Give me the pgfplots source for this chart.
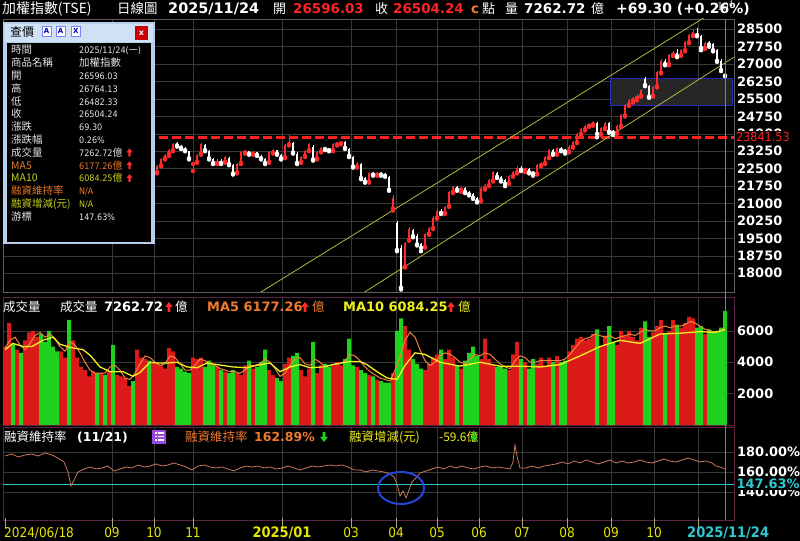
\documentclass[border=0pt]{standalone}
\usepackage{pgfplots}
\pgfplotsset{compat=1.18}
\usepackage{pgfplotstable}
\usepackage{fontspec}
\setmainfont{DejaVu Sans}
\newfontfamily\condf{DejaVu Sans Condensed}
\newfontfamily\cjk{Noto Sans CJK TC}
\newcommand{\fz}[1]{\fontsize{#1}{#1}\selectfont}

\definecolor{gridc}{HTML}{383838}
\definecolor{framec}{HTML}{5E5E5E}
\definecolor{maroonc}{HTML}{5C2442}
\definecolor{upc}{HTML}{FF2A2A}
\definecolor{volred}{HTML}{DD1A1A}
\definecolor{volgreen}{HTML}{1ED21E}
\definecolor{ma5c}{HTML}{F0843C}
\definecolor{ma10c}{HTML}{F4F01E}
\definecolor{chanc}{HTML}{B4B43C}
\definecolor{dashred}{HTML}{FF2020}
\definecolor{boxblue}{HTML}{2A2AB4}
\definecolor{boxfill}{HTML}{262626}
\definecolor{margc}{HTML}{C8785A}
\definecolor{cyanc}{HTML}{2FC8D0}
\definecolor{cursorc}{HTML}{3C9C9C}
\definecolor{ellc}{HTML}{2444D8}
\definecolor{tickc}{HTML}{A8A878}
\definecolor{xlab}{HTML}{E6E600}
\definecolor{orangeT}{HTML}{F07A30}
\definecolor{yellowT}{HTML}{F0F020}
\definecolor{titleRed}{HTML}{FF2424}
\definecolor{boxframe}{HTML}{B6D0EA}
\definecolor{boxhead}{HTML}{CFE1F4}
\definecolor{infoT}{HTML}{E4E4E4}
\definecolor{infoOr}{HTML}{E87828}
\definecolor{infoYe}{HTML}{C8D01C}
\definecolor{purp}{HTML}{9A48E0}

\newcommand{\uparr}[4]{\fill[#3] ({#1-0.13*#4},#2) rectangle ({#1+0.13*#4},{#2+0.55*#4}) ({#1-0.38*#4},{#2+0.5*#4}) -- (#1,{#2+#4}) -- ({#1+0.38*#4},{#2+0.5*#4}) -- cycle;}
\newcommand{\dnarr}[4]{\fill[#3] ({#1-0.13*#4},{#2+#4}) rectangle ({#1+0.13*#4},{#2+0.45*#4}) ({#1-0.38*#4},{#2+0.5*#4}) -- (#1,#2) -- ({#1+0.38*#4},{#2+0.5*#4}) -- cycle;}

\pgfplotstableread{
x o h l c v
5 23000 23250 22950 23150 5000
9 23200 23480 23150 23400 6500
13 23380 23420 23050 23100 5200
17 23120 23300 23050 23230 4800
21 23200 23260 22980 23030 4600
25 23050 23280 23000 23220 5400
29 23300 23850 23280 23800 5900
33 23820 23990 23760 23900 6000
37 23950 24400 23900 24330 5600
41 24350 24420 23950 24000 5800
45 24050 24100 23800 23880 5300
49 23850 23900 23420 23480 6000
53 23400 23450 22850 22900 5000
57 22850 22900 22150 22200 4700
61 22100 22350 22000 22250 4700
65 22350 22650 22300 22600 4300
69 21300 21400 19660 19830 6700
73 20100 20600 20000 20500 5400
77 20700 21100 20650 21000 4300
81 21100 21650 21050 21600 3700
85 21700 21900 21600 21800 3500
89 21900 22150 21800 22100 3100
93 22200 22450 22100 22400 3400
97 22450 22500 22150 22200 3300
101 22300 22650 22250 22600 3300
105 22550 22600 22050 22100 3200
109 22200 22450 22150 22400 3400
113 21800 21850 21050 21100 5100
117 21150 21450 21100 21400 3200
121 21450 21600 21350 21500 3100
125 21550 21850 21500 21800 3000
129 21850 21950 21750 21900 2500
133 21950 22000 21800 21880 2800
137 22000 22450 21950 22400 4800
141 22450 22600 22350 22500 4300
145 22600 22850 22550 22800 4200
149 22600 22650 22050 22100 4100
153 22150 22350 22100 22300 4000
157 22350 22650 22300 22600 3900
161 22650 22950 22600 22900 3800
165 22950 23150 22900 23100 3600
169 23150 23350 23050 23300 4900
173 23300 23600 23250 23550 4700
177 23600 23650 23450 23500 3700
181 23480 23520 23350 23400 3600
185 23380 23420 23250 23300 3400
189 23250 23280 22900 22950 3300
193 22700 22800 22400 22750 4300
197 22800 23150 22750 23100 4200
201 23150 23600 23100 23550 4300
205 23500 23550 23250 23300 3700
209 23250 23300 22900 22950 4100
213 22900 22950 22700 22750 3800
217 22750 22900 22700 22850 3700
221 22850 22900 22700 22750 3500
225 22800 23050 22750 23000 3400
229 22950 23000 22650 22700 3300
233 22650 22700 22250 22300 3500
237 22350 22750 22300 22700 3300
241 22750 23250 22700 23200 3200
245 23200 23300 23150 23250 3800
249 23250 23280 23100 23150 4100
253 23150 23250 23100 23200 3600
257 23200 23230 23050 23100 3700
261 23050 23100 22900 22950 4000
265 22900 22950 22700 22750 4800
269 22800 23250 22750 23200 3500
273 23200 23350 23150 23300 3200
277 23300 23320 23100 23150 3000
281 23100 23150 22900 22950 2800
285 23000 23550 22950 23500 3900
289 23550 23940 23500 23650 4300
293 23600 23650 23150 23200 4400
297 23150 23200 22700 22750 4600
301 22800 23050 22750 23000 3500
305 23050 23300 23000 23250 3100
309 23300 23600 23250 23550 3600
313 23450 23500 22850 22900 5300
317 22950 23250 22900 23200 3300
321 23250 23450 23200 23400 3800
325 23400 23450 23300 23350 3900
329 23350 23400 23250 23300 3700
333 23300 23600 23250 23550 3800
337 23550 23650 23500 23600 4000
341 23600 23700 23550 23650 3800
345 23650 23680 23350 23400 4200
349 23350 23400 23000 23050 5500
353 23000 23050 22550 22600 3800
357 22600 22800 22550 22750 3700
361 22700 22750 22050 22100 3500
365 22100 22150 21900 21950 3300
369 21950 22350 21900 22300 3200
373 22300 22350 22200 22250 3100
377 22250 22350 22200 22300 2900
381 22300 22350 22200 22250 2800
385 22250 22300 22150 22200 2700
389 22150 22200 21550 21600 2700
393 20800 21350 20700 21250 3300
397 20150 20250 18950 19000 6000
401 19100 19200 17306 17390 6800
405 18300 19350 18250 19290 6300
409 19450 20000 19400 19900 4800
413 19850 19900 19550 19600 4200
417 19600 19700 19200 19250 3900
421 19250 19300 18950 19100 3600
425 19150 19750 19100 19700 3500
429 19700 20000 19650 19950 3900
433 19950 20450 19900 20400 4300
437 20400 20750 20350 20700 4500
441 20700 20750 20550 20600 4800
445 20600 20900 20550 20850 4200
449 20900 21550 20850 21500 4800
453 21500 21750 21450 21700 4300
457 21700 21750 21550 21600 3800
461 21600 21700 21500 21650 3600
465 21650 21700 21450 21500 4100
469 21500 21550 21350 21400 4600
473 21400 21450 21200 21250 5000
477 21250 21300 21050 21100 4400
481 21150 21700 21100 21650 4200
485 21650 21850 21600 21800 5500
489 21800 22050 21750 22000 4200
493 22000 22400 21950 22350 3800
497 22300 22350 22100 22150 3700
501 22150 22200 21950 22000 3700
505 22000 22050 21750 21850 3600
509 21900 22250 21850 22200 3500
513 22200 22400 22150 22350 4500
517 22350 22600 22300 22550 5300
521 22550 22600 22400 22450 4200
525 22450 22550 22350 22500 4000
529 22500 22550 22300 22350 3600
533 22350 22400 22200 22300 4200
537 22300 22700 22250 22650 3900
541 22650 22800 22600 22750 4300
545 22750 23050 22700 23000 3800
549 23000 23350 22950 23300 4300
553 23300 23350 23100 23150 4000
557 23150 23450 23100 23400 4400
561 23400 23450 23250 23300 4000
565 23300 23350 23150 23250 4100
569 23250 23500 23200 23450 4700
573 23450 23700 23400 23650 5100
577 23650 24050 23600 24000 5500
581 24000 24250 23950 24200 5600
585 24200 24400 24150 24350 5400
589 24350 24450 24300 24400 5500
593 24400 24550 24350 24500 5800
597 24450 24500 23850 24000 6100
601 24000 24300 23950 24250 5000
605 24250 24500 24200 24450 5700
609 24450 24500 24050 24100 6300
613 24100 24150 23950 24050 5300
617 24050 24400 24000 24350 5100
621 24350 24850 24300 24800 6000
625 24800 25300 24750 25250 5700
629 25250 25500 25200 25450 6000
633 25450 25600 25350 25550 5600
637 25550 25700 25450 25650 5400
641 25650 25950 25600 25900 6200
645 26350 26450 26050 26100 6600
649 26050 26100 25550 25600 5600
653 25650 26050 25600 26000 5900
657 26050 26700 26000 26650 6300
661 26650 27200 26600 27150 6700
665 27150 27200 26950 27000 5800
669 27000 27450 26950 27400 6000
673 27400 27550 27350 27500 6700
677 27500 27650 27300 27350 6400
681 27400 27650 27350 27600 6200
685 27600 28000 27550 27950 6500
689 27950 28300 27900 28250 6900
693 28250 28450 28200 28400 6800
697 28350 28550 28200 28250 6200
701 28200 28250 27600 27700 6300
705 27700 27950 27650 27900 5800
709 27900 28000 27750 27850 6100
713 27850 27900 27550 27600 6000
717 27600 27650 27100 27150 6000
721 27150 27200 26700 26750 6200
725 26596.03 26764.13 26482.33 26504.24 7262.72
}\price

\pgfplotstableread{
x m
5 4900
10 5400
15 5600
20 5100
25 4800
30 5200
35 5700
40 5900
45 5600
50 5800
55 5500
60 5000
65 4700
70 5300
75 5100
80 4600
85 4000
90 3500
95 3300
100 3300
105 3300
110 3700
115 3800
120 3500
125 3000
130 2900
135 3300
140 3900
145 4400
150 4300
155 4000
160 3800
165 3900
170 4400
175 4300
180 3900
185 3500
190 3500
195 3800
200 4200
205 4100
210 3900
215 3800
220 3600
225 3500
230 3400
235 3400
240 3300
245 3500
250 3800
255 3800
260 3900
265 4200
270 4000
275 3600
280 3100
285 3300
290 3800
295 4200
300 4300
305 3900
310 3800
315 4200
320 4000
325 3700
330 3800
335 3900
340 3900
345 4100
350 4500
355 4400
360 4100
365 3700
370 3400
375 3200
380 3000
385 2900
390 2800
395 3500
400 4300
405 5400
410 5900
415 5600
420 4800
425 4100
430 3800
435 4000
440 4400
445 4600
450 4500
455 4300
460 4000
465 3900
470 4200
475 4500
480 4400
485 4600
490 4500
495 4200
500 3900
505 3700
510 3600
515 4100
520 4400
525 4300
530 4000
535 4000
540 4100
545 4100
550 4100
555 4100
560 4100
565 4200
570 4500
575 4900
580 5300
585 5500
590 5600
595 5800
600 5700
605 5600
610 5700
615 5500
620 5600
625 5700
630 5800
635 5700
640 5900
645 6100
650 6000
655 6000
660 6200
665 6300
670 6200
675 6300
680 6300
685 6400
690 6600
695 6500
700 6300
705 6100
710 6000
715 5900
720 6000
725 6177.26
}\mafive

\pgfplotstableread{
x m
5 4800
13 5200
23 5000
32 5000
43 5400
53 5600
60 5150
70 4950
83 4800
90 4450
100 3700
110 3400
123 3400
133 3100
140 3350
150 4000
157 3950
167 3950
177 4000
187 3700
197 3650
207 3950
217 3850
233 3700
247 3650
260 3850
270 3950
280 3400
290 3700
300 3850
310 3650
323 3700
333 3850
350 4050
360 4050
367 3850
377 3400
387 3000
397 2900
405 3800
415 4600
425 4500
440 4000
460 3750
480 4000
500 3750
520 3750
540 3700
560 3850
580 4400
600 5000
620 5400
640 5200
660 5800
680 5850
700 5950
715 5900
725 6084.25
}\maten

\pgfplotstableread{
x m
5 176
12 178
18 175
25 177
32 178
38 176
45 179
52 177
58 174
64 170
68 160
71 146
74 152
78 160
84 163
90 165
96 163
102 164
108 166
114 161
120 163
126 165
132 164
138 167
144 165
150 166
156 168
162 166
168 167
174 169
180 167
186 165
192 162
198 166
204 167
210 165
216 164
222 165
228 163
234 161
240 164
246 166
252 165
258 166
264 164
270 165
276 163
282 164
288 166
294 164
300 162
306 164
312 166
318 165
324 166
330 167
336 166
342 167
348 165
354 162
360 162
366 160
372 162
378 161
384 160
390 158
394 155
397 148
400 136
403 141
406 134
409 142
412 150
416 154
420 159
426 161
432 163
438 165
444 163
450 166
456 164
462 166
468 164
474 163
480 165
486 166
492 164
498 165
504 164
510 163
513 170
515 187
517 176
520 164
526 164
532 166
538 164
544 166
550 167
556 168
562 170
568 168
574 171
580 169
586 172
592 170
598 168
604 170
610 172
616 169
622 171
628 169
634 170
640 172
646 170
652 169
658 171
664 173
670 171
676 170
682 172
688 174
694 172
700 170
706 171
712 169
716 166
720 165
725 162.89
}\margin

\pgfplotsset{
  panel/.style={
    scale only axis, width=731bp, xmin=3, xmax=734,
    axis line style={framec, line width=0.8bp},
    xtick={112,154,193,282,351,396,437,479,522,567,611,654,698},
    xticklabels={},
    tick style={draw=none},
    major tick length=0pt,
    grid=major,
    major grid style={gridc, line width=0.7bp},
    yticklabel pos=right,
    yticklabel style={font=\fz{13}\bfseries, text=white, anchor=west, inner sep=0pt, xshift=3bp},
  },
  upf/.style={restrict expr to domain={\thisrow{c}-\thisrow{o}}{0:100000}},
  dnf/.style={restrict expr to domain={\thisrow{o}-\thisrow{c}}{0.001:100000}},
}

\begin{document}
\begin{tikzpicture}[x=1bp,y=1bp]
\fill[black] (0,0) rectangle (800,541);

% ---------- price panel ----------
\begin{axis}[panel, at={(3bp,249bp)}, anchor=south west, height=273bp,
  ymin=17195, ymax=28943,
  ytick={18000,18750,...,28500},
  yticklabels={18000,18750,19500,20250,21000,21750,22500,23250,24000,24750,25500,26250,27000,27750,28500}]
\fill[boxfill] (axis cs:610,25229) rectangle (axis cs:732,26391);
\draw[boxblue, line width=1bp] (axis cs:610,25229) rectangle (axis cs:732,26391);
\draw[draw=dashred, line width=2.2bp, dash pattern=on 9bp off 4bp] (axis cs:3,23841.53) -- (axis cs:734,23841.53);
\draw[chanc, line width=0.8bp] (axis cs:255,17036) -- (axis cs:705,29024);
\draw[chanc, line width=0.8bp] (axis cs:355,16929) -- (axis cs:740,27467);
% wicks
\addplot[upc, only marks, mark=none, upf, error bars/.cd, y dir=plus, y explicit, error mark=none,
  error bar style={upc, line width=0.8bp, solid}] table[x=x, y=l, y error expr=\thisrow{h}-\thisrow{l}] {\price};
\addplot[white, only marks, mark=none, dnf, error bars/.cd, y dir=plus, y explicit, error mark=none,
  error bar style={white, line width=0.8bp, solid}] table[x=x, y=l, y error expr=\thisrow{h}-\thisrow{l}] {\price};
% bodies
\addplot[upc, only marks, mark=none, upf, error bars/.cd, y dir=plus, y explicit, error mark=none,
  error bar style={upc, line width=2.6bp, solid}] table[x=x, y expr={min(\thisrow{o},\thisrow{c})}, y error expr={max(abs(\thisrow{c}-\thisrow{o}),30)}] {\price};
\addplot[white, only marks, mark=none, dnf, error bars/.cd, y dir=plus, y explicit, error mark=none,
  error bar style={white, line width=2.6bp, solid}] table[x=x, y expr={min(\thisrow{o},\thisrow{c})}, y error expr={max(abs(\thisrow{c}-\thisrow{o}),30)}] {\price};
\end{axis}

% ---------- volume panel ----------
\begin{axis}[panel, at={(3bp,116bp)}, anchor=south west, height=128bp,
  ymin=0, ymax=8160, ytick={2000,4000,6000}, yticklabels={2000,4000,6000},
  axis line style={maroonc, line width=0.8bp}]
\addplot[ybar, bar width=4, bar shift=0pt, fill=volred, draw=none, upf] table[x=x, y=v] {\price};
\addplot[ybar, bar width=4, bar shift=0pt, fill=volgreen, draw=none, dnf] table[x=x, y=v] {\price};
\addplot[ma5c, line width=1bp, mark=none] table[x=x, y=m] {\mafive};
\addplot[ma10c, line width=1.3bp, mark=none] table[x=x, y=m] {\maten};
\end{axis}

% ---------- margin panel ----------
\begin{axis}[panel, at={(3bp,21bp)}, anchor=south west, height=93bp,
  ymin=112, ymax=205, ytick={140,160,180}, yticklabels={140.00\%,160.00\%,180.00\%},
  axis line style={maroonc, line width=0.8bp}]
\draw[cyanc, line width=1bp] (axis cs:3,147.63) -- (axis cs:734,147.63);
\addplot[margc, line width=0.8bp, mark=none] table[x=x, y=m] {\margin};
\draw[ellc, line width=2bp] (axis cs:401,144) ellipse [x radius=23bp, y radius=16bp];
\end{axis}

% cursor line
\draw[cursorc, line width=0.9bp] (725,21) -- (725,522);

% right-side special labels
\node[anchor=west, fill=black, inner sep=1bp, text=dashred] at (735,404) {\condf\fz{12.5}23841.53};
\node[anchor=west, fill=black, inner sep=1bp, text=cyanc] at (735.5,57) {\fz{13}\bfseries 147.63\%};

% x ticks and labels
\foreach \xx in {5,112,154,193,282,351,396,437,479,522,567,611,654,698} {\draw[tickc, line width=0.8bp] (\xx,13) -- (\xx,23);}
\begin{scope}[every node/.style={inner sep=0pt, text=xlab, anchor=base}]
\node[anchor=base west] at (4,3.5) {\condf\fz{13.5}2024/06/18};
\node at (112,3.5) {\condf\fz{13.5}09};
\node at (154,3.5) {\condf\fz{13.5}10};
\node at (193,3.5) {\condf\fz{13.5}11};
\node at (282,3.5) {\condf\fz{14.5}\bfseries 2025/01};
\node at (351,3.5) {\condf\fz{13.5}03};
\node at (396,3.5) {\condf\fz{13.5}04};
\node at (437,3.5) {\condf\fz{13.5}05};
\node at (479,3.5) {\condf\fz{13.5}06};
\node at (522,3.5) {\condf\fz{13.5}07};
\node at (567,3.5) {\condf\fz{13.5}08};
\node at (611,3.5) {\condf\fz{13.5}09};
\node at (654,3.5) {\condf\fz{13.5}10};
\node[anchor=base west, text=cyanc] at (687,3.5) {\condf\fz{14.5}\bfseries 2025/11/24};
\end{scope}

% title row
\begin{scope}[every node/.style={inner sep=0pt, anchor=base west, text=white}]
\node at (2,527) {\cjk\fz{14}加權指數(TSE)};
\node at (117,527) {\cjk\fz{13.5}日線圖};
\node at (168,527) {\fz{14.5}\bfseries 2025/11/24};
\node at (273,527) {\cjk\fz{13}開};
\node[text=titleRed] at (293,527) {\fz{13.5}\bfseries 26596.03};
\node at (375,527) {\cjk\fz{13}收};
\node[text=titleRed] at (393,527) {\fz{13.5}\bfseries 26504.24};
\node[text=orangeT] at (471,527) {\fz{13.5}\bfseries c};
\node at (482,527) {\cjk\fz{13}點};
\node at (505,527) {\cjk\fz{13}量};
\node at (524,527) {\fz{13.5}\bfseries 7262.72};
\node at (591,527) {\cjk\fz{13}億};
\node at (616,527) {\fz{14}\bfseries +69.30 (+0.26\%)};
\end{scope}

% volume header
\begin{scope}[every node/.style={inner sep=0pt, anchor=base west, text=white}]
\node at (3,229) {\cjk\fz{12.5}成交量};
\node at (60,229) {\cjk\fz{12.5}成交量};
\node at (104,229) {\fz{13}\bfseries 7262.72};
\node at (175,229) {\cjk\fz{12.5}億};
\node[text=orangeT] at (207,229) {\fz{13}\bfseries MA5 6177.26};
\node[text=orangeT] at (312,229) {\cjk\fz{12.5}億};
\node[text=yellowT] at (343,229) {\fz{13}\bfseries MA10 6084.25};
\node[text=yellowT] at (458,229) {\cjk\fz{12.5}億};
\end{scope}
\uparr{169}{229}{upc}{10}
\uparr{305}{229}{upc}{10}
\uparr{451}{229}{upc}{10}

% margin header
\begin{scope}[every node/.style={inner sep=0pt, anchor=base west, text=white}]
\node at (4,99) {\cjk\fz{12.5}融資維持率};
\node at (77,99) {\fz{12.5}\bfseries (11/21)};
\node[text=orangeT] at (185,99) {\cjk\fz{12.5}融資維持率};
\node[text=orangeT] at (254,99) {\fz{12.5}\bfseries 162.89\%};
\node[text=yellowT] at (349,99) {\cjk\fz{12.5}融資增減(元)};
\node[text=yellowT] at (439,99) {\cjk\fz{12}-59.6億};
\end{scope}
\dnarr{324}{99}{volgreen}{10}
\dnarr{474}{99}{volgreen}{10}
\fill[purp] (152,97) rectangle (166,111);
\foreach \yy in {100,103.5,107} {\fill[white] (154.5,\yy) rectangle (156.5,\yy+1.6); \fill[white] (158,\yy) rectangle (164,\yy+1.6);}

% info box
\fill[boxframe] (3,297) rectangle (155,519);
\fill[boxhead] (5,499) rectangle (153,517);
\fill[black] (7,299) rectangle (151,498);
\node[anchor=base west, inner sep=0pt, text=black] at (10,504) {\cjk\fz{12}查價};
\foreach \xx in {42,56,71} {\fill[white] (\xx,505) rectangle (\xx+9.5,515); \draw[blue!50!white, line width=0.4bp] (\xx,505) rectangle (\xx+9.5,515);}
\node[inner sep=0pt, text=blue!70!black] at (46.5,510) {\fz{7}\bfseries A};
\node[inner sep=0pt, text=blue!70!black] at (60.5,510) {\fz{7}\bfseries A};
\node[inner sep=0pt, text=blue!70!black] at (75.7,510) {\fz{7}\bfseries X};
\fill[red!80!black] (135,501) rectangle (148,515);
\node[inner sep=0pt, text=white] at (141.5,508) {\fz{8}\bfseries x};
\begin{scope}[every node/.style={inner sep=0pt, anchor=base west, text=infoT}]
\node at (11,487) {\cjk\fz{10.5}時間};
\node at (79,487) {\condf\fz{9}2025/11/24(\cjk 一\condf)};
\node at (11,474.2) {\cjk\fz{10.5}商品名稱};
\node at (79,474.2) {\cjk\fz{10.5}加權指數};
\node at (11,461.4) {\cjk\fz{10.5}開};
\node at (79,461.4) {\condf\fz{9}26596.03};
\node at (11,448.6) {\cjk\fz{10.5}高};
\node at (79,448.6) {\condf\fz{9}26764.13};
\node at (11,435.8) {\cjk\fz{10.5}低};
\node at (79,435.8) {\condf\fz{9}26482.33};
\node at (11,423) {\cjk\fz{10.5}收};
\node at (79,423) {\condf\fz{9}26504.24};
\node at (11,410.2) {\cjk\fz{10.5}漲跌};
\node at (79,410.2) {\condf\fz{9}69.30};
\node at (11,397.4) {\cjk\fz{10.5}漲跌幅};
\node at (79,397.4) {\condf\fz{9}0.26\%};
\node at (11,384.6) {\cjk\fz{10.5}成交量};
\node at (79,384.6) {\condf\fz{9}7262.72\cjk\fz{10}億};
\node[text=infoOr] at (11,371.8) {\cjk\fz{10.5}MA5};
\node[text=infoOr] at (79,371.8) {\condf\fz{9}6177.26\cjk\fz{10}億};
\node[text=infoYe] at (11,359) {\cjk\fz{10.5}MA10};
\node[text=infoYe] at (79,359) {\condf\fz{9}6084.25\cjk\fz{10}億};
\node[text=infoOr] at (11,346.2) {\cjk\fz{10.5}融資維持率};
\node[text=infoOr] at (79,346.2) {\condf\fz{9}N/A};
\node[text=infoYe] at (11,333.4) {\cjk\fz{10.5}融資增減(元)};
\node[text=infoYe] at (79,333.4) {\condf\fz{9}N/A};
\node at (11,320.6) {\cjk\fz{10.5}游標};
\node at (79,320.6) {\condf\fz{9}147.63\%};
\end{scope}
\uparr{129.5}{384.6}{upc}{8}
\uparr{129.5}{371.8}{upc}{8}
\uparr{129.5}{359}{upc}{8}

\pgfresetboundingbox
\useasboundingbox (0,0) rectangle (800,541);
\end{tikzpicture}
\end{document}
